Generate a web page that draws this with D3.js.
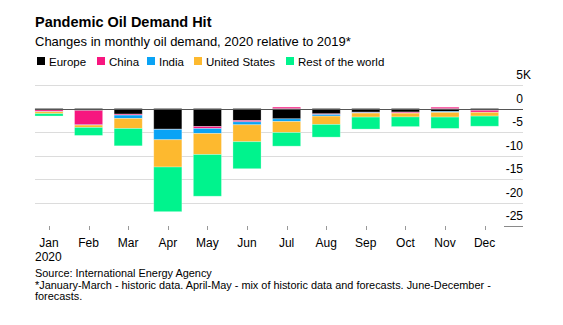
<!DOCTYPE html>
<html>
<head>
<meta charset="utf-8">
<script src="https://cdn.jsdelivr.net/npm/d3@7"></script>
<style>
  body { margin: 0; background: #fff; }
  svg text { font-family: "Liberation Sans", Arial, Helvetica, sans-serif; fill: #000; }
</style>
</head>
<body>
<svg id="chart" width="563" height="325"></svg>
<script>
// values in thousand barrels/day, change vs 2019
const months = ["Jan", "Feb", "Mar", "Apr", "May", "Jun", "Jul", "Aug", "Sep", "Oct", "Nov", "Dec"];
const regions = ["Europe", "China", "India", "United States", "Rest of the world"];
const europe = [-0.3, -0.43, -1.2, -4.4, -3.83, -2.55, -2.2, -1.13, -0.78, -0.75, -0.63, -0.4];
const china = [-0.35, -3.05, -0.21, -0.05, -0.43, -0.28, 0.3, -0.14, -0.1, -0.2, 0.28, -0.4];
const india = [-0.05, -0.05, -0.71, -2.2, -1.06, -0.64, -0.57, -0.35, -0.1, -0.05, -0.2, -0.02];
const unitedStates = [-0.4, -0.5, -2.13, -5.8, -4.47, -3.6, -2.34, -1.77, -0.85, -0.8, -1.0, -0.8];
const restOfWorld = [-0.5, -1.7, -3.69, -9.5, -8.87, -5.74, -2.9, -2.7, -2.55, -2.05, -2.4, -2.15];
const yTicks = [5, 0, -5, -10, -15, -20, -25];
const colors = ["#000000", "#f7167f", "#0aa3f5", "#fdb92f", "#00f38d"];

const series = [europe, china, india, unitedStates, restOfWorld];
const rows = months.map((m, i) => {
  const r = { month: m };
  regions.forEach((k, j) => r[k] = series[j][i]);
  return r;
});

const svg = d3.select("#chart");

// header
svg.append("text").attr("x", 35).attr("y", 27)
  .style("font-size", "14.5px").style("font-weight", "bold")
  .text("Pandemic Oil Demand Hit");
svg.append("text").attr("x", 35).attr("y", 46)
  .style("font-size", "13px")
  .text("Changes in monthly oil demand, 2020 relative to 2019*");

// legend
const legendX = [37, 97, 147, 194, 286];
const legend = svg.append("g");
regions.forEach((k, i) => {
  legend.append("rect").attr("x", legendX[i]).attr("y", 57).attr("width", 8).attr("height", 8)
    .attr("fill", colors[i]);
  legend.append("text").attr("x", legendX[i] + 12).attr("y", 65.5)
    .style("font-size", "11.5px").text(k);
});

const x = d3.scaleBand().domain(months).range([29.2, 504.4])
  .paddingInner(0.29).paddingOuter(0.145);
const y = d3.scaleLinear().domain([-25, 5]).range([226, 85]);

// grid
svg.append("g").selectAll("line").data(yTicks.filter(d => d !== 0 && d !== -25)).join("line")
  .attr("x1", 35).attr("x2", 523)
  .attr("y1", d => Math.round(y(d)) + 0.5).attr("y2", d => Math.round(y(d)) + 0.5)
  .attr("stroke", "#dcdcdc").attr("stroke-width", 1);
svg.append("line").attr("x1", 504).attr("x2", 523)
  .attr("y1", Math.round(y(-25)) + 0.5).attr("y2", Math.round(y(-25)) + 0.5)
  .attr("stroke", "#8a8a8a");

// y labels
svg.append("g").selectAll("text").data(yTicks).join("text")
  .attr("x", 523).attr("y", d => y(d) - 6)
  .attr("text-anchor", "end").style("font-size", "12px")
  .text(d => d);
svg.append("text").attr("x", 523).attr("y", y(5) - 6).style("font-size", "12px").text("K");

// bars
const stack = d3.stack().keys(regions).offset(d3.stackOffsetDiverging);
const layers = stack(rows);
svg.append("g").selectAll("g").data(layers).join("g")
  .attr("fill", (d, i) => colors[i])
  .selectAll("rect").data(d => d).join("rect")
  .attr("x", d => x(d.data.month))
  .attr("width", x.bandwidth())
  .attr("y", d => y(Math.max(d[0], d[1])))
  .attr("height", d => Math.abs(y(d[0]) - y(d[1])))
  .attr("stroke", "#fff").attr("stroke-opacity", 0.35).attr("stroke-width", 0.8);

// zero line
svg.append("line").attr("x1", 35).attr("x2", 523)
  .attr("y1", Math.round(y(0)) + 0.5).attr("y2", Math.round(y(0)) + 0.5)
  .attr("stroke", "#555").attr("stroke-width", 1);

// x axis
const xAxis = svg.append("g");
xAxis.selectAll("line").data(months).join("line")
  .attr("x1", d => Math.round(x(d) + x.bandwidth() / 2) + 0.5)
  .attr("x2", d => Math.round(x(d) + x.bandwidth() / 2) + 0.5)
  .attr("y1", 226).attr("y2", 230).attr("stroke", "#999");
xAxis.selectAll("text").data(months).join("text")
  .attr("x", d => x(d) + x.bandwidth() / 2).attr("y", 246.5)
  .attr("text-anchor", "middle").style("font-size", "12px")
  .text(d => d);
svg.append("text").attr("x", 35).attr("y", 261).style("font-size", "12px").text("2020");

// footer
const foot = svg.append("g").style("font-size", "10.9px");
foot.append("text").attr("x", 35).attr("y", 277).text("Source: International Energy Agency");
foot.append("text").attr("x", 35).attr("y", 289)
  .text("*January-March - historic data. April-May - mix of historic data and forecasts. June-December -");
foot.append("text").attr("x", 35).attr("y", 300).text("forecasts.");
</script>
</body>
</html>
